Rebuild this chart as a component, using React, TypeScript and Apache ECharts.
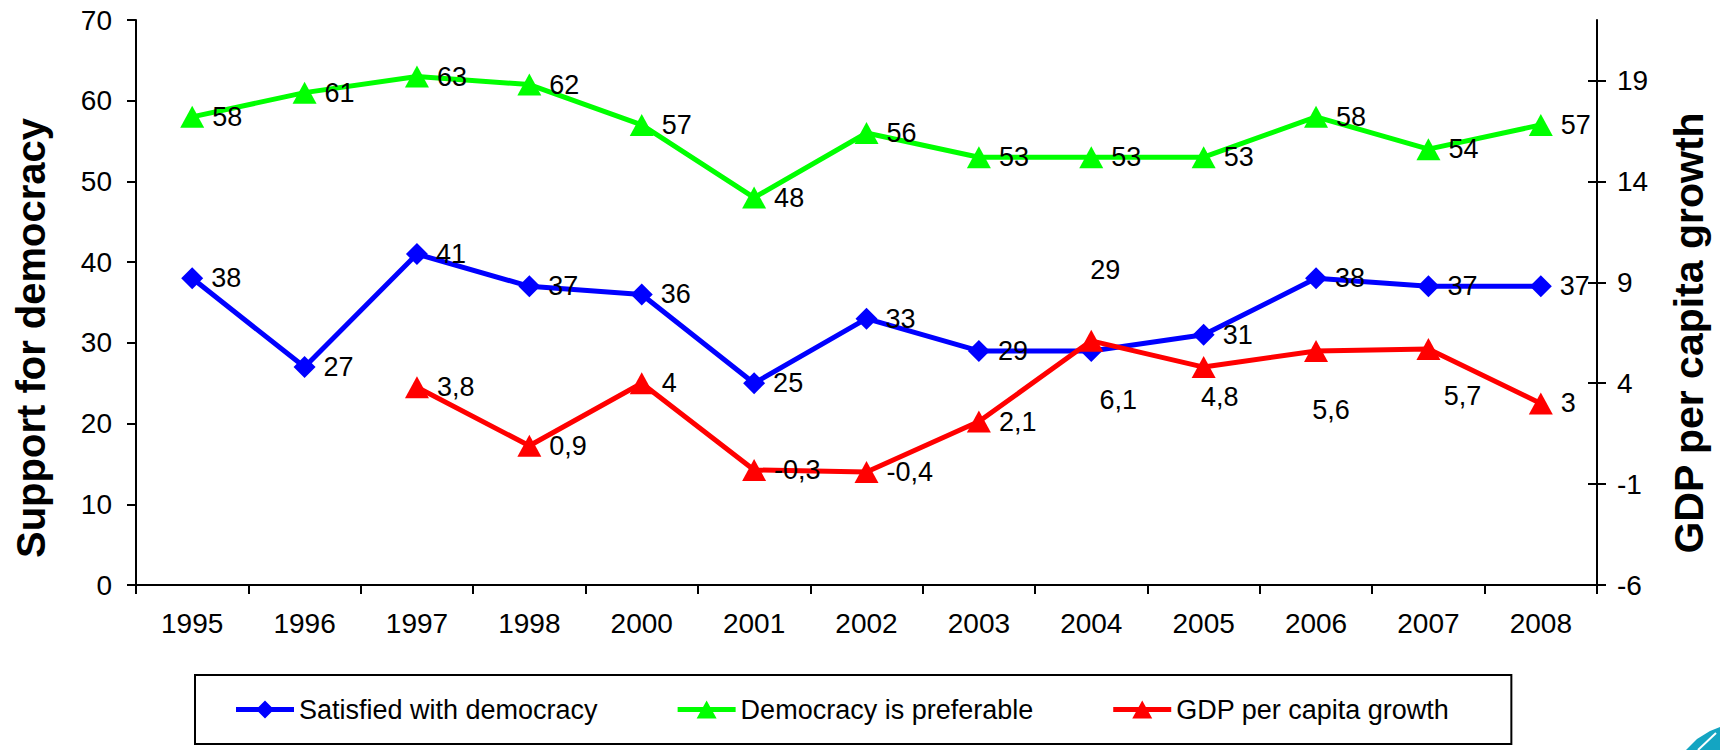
import React, { useEffect, useRef } from "react";
import * as echarts from "echarts";

const years = ["1995", "1996", "1997", "1998", "2000", "2001", "2002", "2003", "2004", "2005", "2006", "2007", "2008"];
const satisfied = [38, 27, 41, 37, 36, 25, 33, 29, 29, 31, 38, 37, 37];
const preferable = [58, 61, 63, 62, 57, 48, 56, 53, 53, 53, 58, 54, 57];
const gdpGrowth: (number | null)[] = [null, null, 3.8, 0.9, 4, -0.3, -0.4, 2.1, 6.1, 4.8, 5.6, 5.7, 3];
const gdpTicks = [-6, -1, 4, 9, 14, 19];

const seriesNames = ["Satisfied with democracy", "Democracy is preferable", "GDP per capita growth"];

// label placement overrides (style only): index -> [dx, dy] from the point
const satisfiedLabelShift: Record<number, [number, number]> = { 8: [14, -81] };
const gdpLabelShift: Record<number, [number, number]> = { 8: [27, 59], 9: [16, 30], 10: [15, 59], 11: [34, 47] };

const FONT = "'Liberation Sans', Arial, Helvetica, sans-serif";

// legend icons: thick line with the marker in the middle
const ICON_DIAMOND = "path://M0,6.5L58,6.5L58,11.5L0,11.5Z M29,0L38,9L29,18L20,9Z";
const ICON_TRIANGLE = "path://M0,6.5L58,6.5L58,11.5L0,11.5Z M29,0L39,18L19,18Z";

function withShifts(values: (number | null)[], shifts: Record<number, [number, number]>) {
  return values.map((v, i) =>
    shifts[i] && v !== null
      ? { value: v, label: { position: "inside", offset: shifts[i] } }
      : v
  );
}

export default function App() {
  const ref = useRef<HTMLDivElement>(null);
  useEffect(() => {
    document.body.style.margin = "0";
    if (!ref.current) return;
    const chart = echarts.init(ref.current, undefined, { renderer: "svg" });
    const labelBase = {
      show: true,
      position: "right",
      distance: 8,
      color: "#000",
      fontSize: 27,
      fontFamily: FONT,
    };
    chart.setOption({
      animation: false,
      backgroundColor: "#fff",
      textStyle: { fontFamily: FONT },
      grid: { left: 136, right: 123, top: 20, bottom: 165, containLabel: false },
      legend: {
        left: 195,
        top: 675,
        orient: "horizontal",
        data: [
          { name: seriesNames[0], icon: ICON_DIAMOND },
          { name: seriesNames[1], icon: ICON_TRIANGLE },
          { name: seriesNames[2], icon: ICON_TRIANGLE },
        ],
        itemWidth: 58,
        itemHeight: 18,
        itemGap: 80,
        padding: [21, 62, 21, 41],
        borderColor: "#000",
        borderWidth: 2,
        backgroundColor: "#fff",
        textStyle: { fontSize: 27, color: "#000", fontFamily: FONT, lineHeight: 27 },
      },
      xAxis: {
        type: "category",
        data: years,
        boundaryGap: true,
        axisLine: { lineStyle: { color: "#000", width: 2 } },
        axisTick: { show: true, interval: 0, length: 9, lineStyle: { color: "#000", width: 2 } },
        axisLabel: { interval: 0, margin: 24, fontSize: 28, color: "#000", fontFamily: FONT },
        splitLine: { show: false },
      },
      yAxis: [
        {
          type: "value",
          position: "left",
          min: 0,
          max: 70,
          interval: 10,
          axisLine: { show: true, lineStyle: { color: "#000", width: 2 } },
          axisTick: { show: true, length: 9, lineStyle: { color: "#000", width: 2 } },
          axisLabel: { margin: 24, fontSize: 28, color: "#000", fontFamily: FONT },
          splitLine: { show: false },
        },
        {
          type: "value",
          position: "right",
          min: -6,
          max: 22,
          axisLine: { show: true, lineStyle: { color: "#000", width: 2 } },
          axisTick: { show: true, length: 9, customValues: gdpTicks, lineStyle: { color: "#000", width: 2 } },
          axisLabel: { margin: 20, fontSize: 28, color: "#000", fontFamily: FONT, customValues: gdpTicks },
          splitLine: { show: false },
        },
        {
          type: "value",
          position: "right",
          min: -6,
          max: 22,
          axisLine: { show: false },
          axisTick: { show: true, inside: true, length: 9, customValues: gdpTicks, lineStyle: { color: "#000", width: 2 } },
          axisLabel: { show: false },
          splitLine: { show: false },
        },
      ],
      series: [
        {
          name: seriesNames[0],
          type: "line",
          yAxisIndex: 0,
          data: withShifts(satisfied, satisfiedLabelShift),
          symbol: "diamond",
          symbolSize: 22,
          lineStyle: { color: "#0000FF", width: 5 },
          itemStyle: { color: "#0000FF" },
          label: { ...labelBase },
        },
        {
          name: seriesNames[1],
          type: "line",
          yAxisIndex: 0,
          data: preferable,
          symbol: "triangle",
          symbolSize: [24, 22],
          lineStyle: { color: "#00FF00", width: 5 },
          itemStyle: { color: "#00FF00" },
          label: { ...labelBase },
        },
        {
          name: seriesNames[2],
          type: "line",
          yAxisIndex: 1,
          data: withShifts(gdpGrowth, gdpLabelShift),
          connectNulls: false,
          symbol: "triangle",
          symbolSize: [24, 22],
          lineStyle: { color: "#FF0000", width: 5 },
          itemStyle: { color: "#FF0000" },
          label: {
            ...labelBase,
            formatter: (p: any) => String(p.value).replace(".", ","),
          },
        },
      ],
      graphic: [
        {
          type: "text",
          x: 31,
          y: 338,
          rotation: Math.PI / 2,
          style: {
            text: "Support for democracy",
            font: `bold 40px ${FONT}`,
            fill: "#000",
            textAlign: "center",
            textVerticalAlign: "middle",
          },
        },
        {
          type: "text",
          x: 1689,
          y: 333,
          rotation: Math.PI / 2,
          style: {
            text: "GDP per capita growth",
            font: `bold 41px ${FONT}`,
            fill: "#000",
            textAlign: "center",
            textVerticalAlign: "middle",
          },
        },
        {
          type: "polygon",
          shape: { points: [[1686, 750], [1697, 739], [1710, 731], [1720, 727], [1720, 750]] },
          style: { fill: "#14A5C2" },
        },
        {
          type: "line",
          shape: { x1: 1698, y1: 750, x2: 1716, y2: 733 },
          style: { stroke: "#ffffff", lineWidth: 2 },
        },
      ],
    });
    return () => chart.dispose();
  }, []);
  return <div ref={ref} style={{ width: 1720, height: 750 }} />;
}
